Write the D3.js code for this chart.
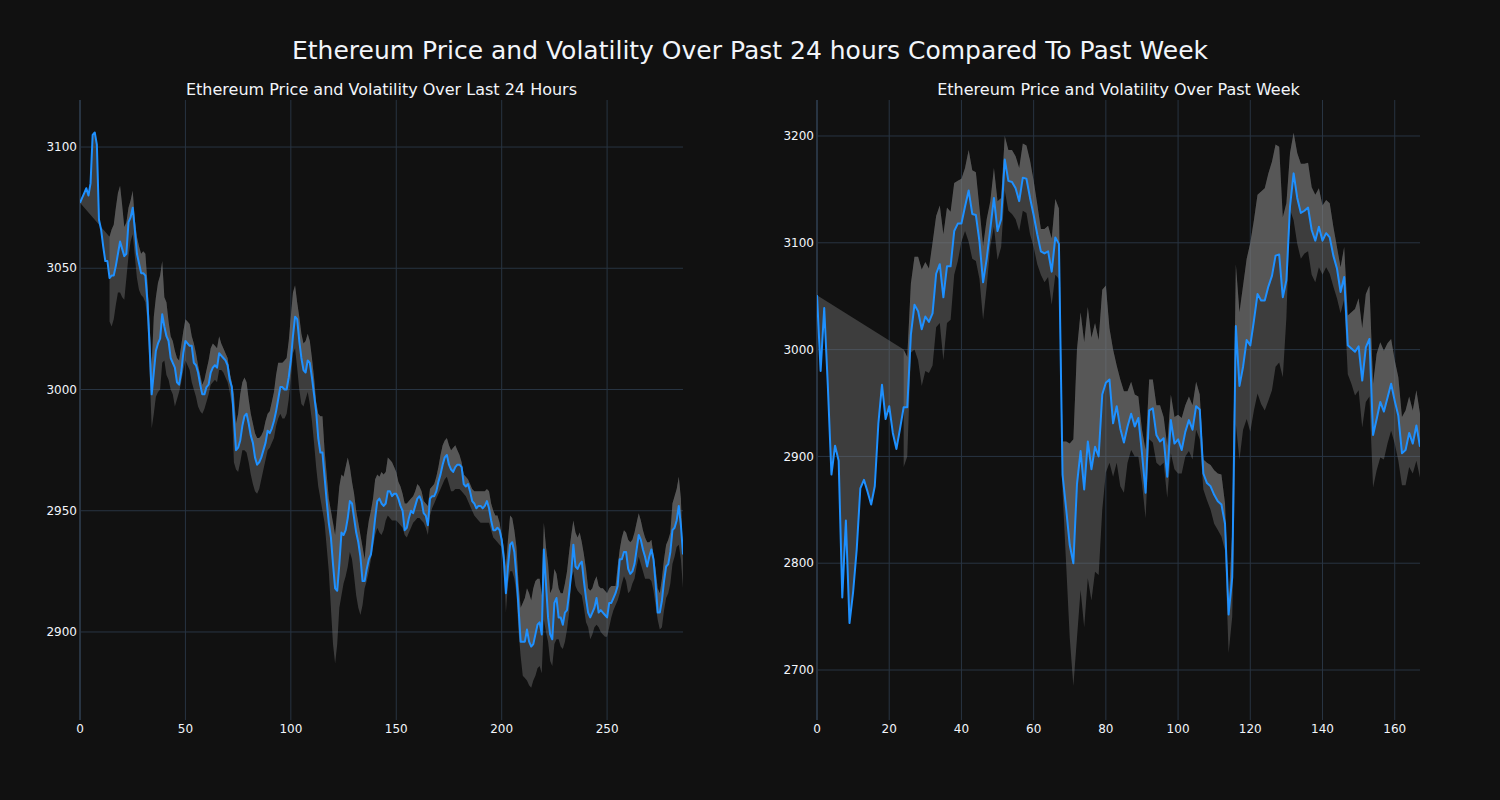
<!DOCTYPE html>
<html>
<head>
<meta charset="utf-8">
<script src="https://cdn.jsdelivr.net/npm/d3@7"></script>
<style>
  html, body { margin: 0; padding: 0; background: #111111; }
  svg { display: block; }
</style>
</head>
<body>
<svg id="chart" width="1500" height="800"></svg>
<script>
// ---------------- DATA ----------------
const mainTitle = "Ethereum Price and Volatility Over Past 24 hours Compared To Past Week";
const leftTitle = "Ethereum Price and Volatility Over Last 24 Hours";
const rightTitle = "Ethereum Price and Volatility Over Past Week";

// Last 24 hours (5-minute steps), index 0..286
const leftPrice = [
3077,3079,3081,3083,3080,3085,3105,3106,3101,3070,3066,3059,3053,3053,3046,3047,3047,3051,3056,3061,
3058,3055,3056,3069,3071,3075,3066,3056,3052,3048,3048,3047,3036,3018,2998,3007,3016,3019,3021,3031,
3026,3022,3020,3013,3011,3009,3003,3002,3007,3015,3020,3019,3018,3018,3011,3010,3007,3002,2998,2998,
3001,3002,3007,3009,3010,3009,3015,3014,3013,3012,3010,3004,3001,2988,2975,2976,2979,2985,2989,2990,
2986,2981,2978,2972,2969,2970,2972,2975,2978,2983,2982,2984,2987,2991,2996,3001,3001,3000,3000,3005,
3012,3022,3030,3029,3020,3013,3008,3007,3012,3011,3005,2998,2991,2980,2974,2974,2964,2954,2945,2939,
2928,2918,2917,2928,2941,2940,2942,2947,2954,2953,2947,2941,2937,2931,2921,2921,2926,2930,2932,2939,
2947,2954,2955,2953,2952,2953,2958,2958,2956,2957,2957,2955,2952,2950,2942,2943,2947,2950,2949,2952,
2955,2956,2954,2949,2948,2944,2955,2956,2956,2958,2962,2965,2969,2972,2973,2969,2967,2966,2968,2969,
2969,2968,2961,2960,2961,2958,2954,2953,2951,2952,2952,2951,2952,2954,2951,2946,2942,2942,2943,2942,
2938,2930,2916,2927,2936,2937,2933,2923,2910,2896,2896,2896,2901,2896,2894,2895,2899,2903,2904,2899,
2934,2920,2906,2899,2897,2912,2914,2906,2906,2903,2908,2909,2916,2924,2936,2927,2926,2928,2929,2921,
2914,2908,2906,2908,2910,2914,2908,2909,2908,2907,2906,2912,2912,2914,2916,2919,2930,2930,2933,2933,
2926,2924,2925,2928,2934,2940,2938,2934,2931,2927,2931,2934,2930,2920,2908,2908,2913,2921,2927,2928,
2933,2942,2943,2946,2952,2944,2932
];
const leftBandStart = 14;
const leftUpper = [
3063,3066,3068,3075,3081,3084,3076,3067,3069,3075,3078,3082,3070,3063,3059,3056,3057,3056,3044,3027,
3010,3030,3038,3044,3047,3053,3038,3036,3028,3022,3020,3016,3013,3012,3018,3024,3029,3028,3027,3022,
3019,3015,3010,3006,3002,3004,3008,3012,3017,3019,3018,3017,3022,3019,3017,3015,3013,3007,3003,2998,
2986,2990,2998,3003,3005,3003,2996,2990,2986,2982,2980,2980,2981,2983,2987,2990,2991,2995,2999,3006,
3011,3011,3011,3012,3013,3020,3030,3040,3043,3036,3030,3023,3019,3020,3023,3020,3013,3005,2995,2990,
2989,2989,2975,2965,2955,2950,2945,2940,2950,2960,2965,2964,2968,2972,2968,2962,2957,2950,2945,2940,
2935,2930,2940,2946,2950,2955,2963,2965,2964,2966,2965,2966,2972,2971,2970,2968,2966,2962,2960,2957,
2953,2953,2954,2955,2956,2958,2961,2960,2958,2954,2953,2952,2959,2960,2961,2964,2968,2973,2977,2979,
2980,2977,2975,2976,2977,2975,2973,2970,2965,2964,2963,2961,2959,2958,2958,2958,2958,2958,2958,2959,
2958,2953,2950,2948,2948,2945,2940,2935,2927,2938,2948,2947,2942,2935,2920,2910,2912,2914,2918,2916,
2913,2918,2921,2922,2922,2915,2945,2935,2928,2916,2918,2926,2924,2918,2916,2916,2920,2925,2933,2940,
2946,2941,2939,2941,2937,2932,2926,2918,2917,2918,2921,2923,2919,2918,2918,2917,2916,2918,2919,2919,
2919,2927,2934,2939,2942,2941,2938,2937,2938,2941,2945,2949,2946,2942,2939,2937,2937,2938,2932,2926,
2918,2916,2922,2930,2936,2938,2941,2953,2956,2959,2964,2955,2930
];
const leftLower = [
3028,3026,3029,3035,3040,3040,3038,3037,3046,3055,3061,3064,3055,3046,3041,3039,3038,3036,3028,3008,
2984,2990,2997,2999,3000,3011,3012,3006,3004,3000,2998,2993,2996,2999,3003,3008,3012,3010,3008,3003,
3000,2997,2993,2991,2990,2992,2995,2998,3002,3003,3004,3003,3008,3008,3007,3005,3003,2999,2994,2970,
2967,2966,2970,2975,2975,2974,2970,2965,2961,2958,2957,2959,2963,2967,2971,2975,2976,2978,2980,2985,
2988,2990,2988,2988,2990,2996,3005,3015,3017,3009,3000,2994,2993,2996,2999,2994,2987,2978,2968,2960,
2955,2950,2945,2935,2925,2910,2895,2887,2895,2910,2915,2920,2923,2927,2933,2930,2923,2915,2910,2907,
2911,2918,2921,2925,2930,2935,2940,2943,2941,2940,2942,2946,2948,2947,2946,2946,2946,2945,2944,2943,
2940,2939,2941,2943,2945,2946,2947,2947,2946,2945,2943,2940,2948,2951,2953,2955,2957,2959,2961,2963,
2964,2961,2958,2958,2959,2959,2959,2958,2957,2956,2954,2952,2950,2948,2947,2946,2945,2945,2945,2945,
2945,2942,2939,2938,2937,2936,2935,2930,2908,2920,2925,2925,2922,2916,2900,2890,2882,2881,2880,2878,
2877,2880,2882,2885,2886,2883,2905,2900,2896,2888,2886,2895,2897,2897,2894,2893,2896,2901,2908,2922,
2925,2919,2917,2916,2915,2910,2904,2902,2897,2899,2902,2903,2902,2900,2899,2898,2898,2902,2906,2909,
2911,2913,2916,2920,2923,2921,2916,2917,2920,2922,2927,2931,2928,2925,2922,2922,2922,2921,2917,2911,
2905,2901,2902,2909,2914,2916,2920,2928,2931,2935,2936,2930,2918
];

// Past week (hourly steps), index 0..167
const rightPrice = [
3051,2980,3039,2966,2883,2910,2896,2768,2840,2744,2773,2813,2870,2878,2867,2855,2872,2931,2967,2935,
2947,2922,2907,2926,2946,2946,3014,3042,3036,3019,3031,3026,3034,3071,3080,3049,3078,3078,3111,3118,
3118,3134,3149,3127,3126,3101,3063,3085,3113,3142,3111,3122,3178,3158,3157,3151,3139,3161,3160,3142,
3126,3108,3092,3090,3092,3073,3105,3099,2883,2851,2817,2800,2874,2905,2869,2914,2888,2909,2900,2958,
2969,2972,2931,2947,2926,2913,2928,2940,2928,2936,2903,2866,2943,2945,2920,2914,2917,2881,2934,2912,
2916,2906,2923,2934,2925,2947,2944,2884,2875,2872,2864,2858,2855,2837,2752,2787,3022,2966,2984,3009,
3004,3027,3052,3046,3046,3059,3069,3088,3089,3049,3065,3134,3165,3142,3128,3130,3133,3112,3102,3115,
3102,3109,3105,3088,3076,3054,3068,3004,3001,2998,3003,2971,3002,3010,2920,2935,2951,2942,2955,2968,
2952,2938,2903,2906,2922,2912,2929,2909
];
const rightBandStart = 24;
const rightUpper = [
3000,2993,3062,3087,3087,3075,3082,3076,3100,3125,3135,3108,3133,3129,3156,3158,3160,3170,3187,3168,
3166,3132,3097,3122,3139,3170,3139,3142,3200,3187,3187,3181,3170,3193,3191,3177,3158,3136,3113,3113,
3116,3104,3141,3132,2914,2914,2912,2916,3000,3035,3007,3040,3011,3025,3009,3056,3060,3020,3000,2985,
2972,2961,2961,2970,2958,2956,2925,2906,2972,2972,2948,2948,2937,2910,2958,2937,2939,2936,2948,2956,
2948,2970,2958,2897,2894,2892,2887,2884,2883,2856,2762,2830,3080,3035,3060,3085,3100,3121,3145,3148,
3151,3165,3176,3192,3190,3124,3137,3184,3203,3184,3174,3174,3175,3152,3145,3151,3135,3140,3137,3115,
3096,3077,3096,3032,3035,3038,3048,3020,3052,3060,2968,2996,3007,2999,3006,3010,2990,2974,2937,2943,
2956,2943,2962,2940
];
const rightLower = [
2890,2900,2997,3000,2990,2966,2980,2978,2985,3021,3025,2990,3025,3028,3070,3083,3101,3111,3101,3085,
3083,3066,3028,3059,3097,3115,3084,3096,3149,3130,3127,3122,3111,3130,3128,3108,3096,3080,3070,3063,
3068,3042,3070,3066,2868,2799,2730,2685,2730,2775,2740,2786,2765,2792,2789,2850,2885,2894,2881,2894,
2872,2866,2894,2906,2900,2900,2875,2842,2916,2913,2894,2891,2894,2861,2903,2888,2884,2884,2900,2905,
2897,2925,2916,2869,2859,2850,2837,2831,2825,2812,2716,2750,2930,2897,2925,2935,2923,2943,2959,2949,
2943,2952,2962,2984,2988,2974,3030,3131,3121,3099,3085,3090,3092,3070,3063,3077,3070,3077,3071,3059,
3048,3034,3047,2977,2968,2957,2962,2927,2951,2956,2871,2887,2899,2897,2912,2924,2912,2896,2873,2873,
2890,2884,2896,2880
];

const leftXTicks = [0, 50, 100, 150, 200, 250];
const leftYTicks = [2900, 2950, 3000, 3050, 3100];
const rightXTicks = [0, 20, 40, 60, 80, 100, 120, 140, 160];
const rightYTicks = [2700, 2800, 2900, 3000, 3100, 3200];

// ---------------- DRAWING ----------------
const W = 1500, H = 800;
const FONT = "'DejaVu Sans', Verdana, sans-serif";
const TEXT = "#f2f5fa";
const GRID = "#283442";
const LINE = "#1e90ff";
const BAND = "rgba(128,128,128,0.4)";

const svg = d3.select("#chart");
svg.append("rect").attr("width", W).attr("height", H).attr("fill", "#111111");

svg.append("text")
  .attr("x", 750).attr("y", 59)
  .attr("text-anchor", "middle")
  .attr("font-family", FONT).attr("font-size", 25)
  .attr("fill", TEXT)
  .text(mainTitle);

function panel(opts) {
  const { x0, x1, yDomain, price, upper, lower, bandStart, xTicks, yTicks, title, id } = opts;
  const top = 100, bottom = 720;
  const x = d3.scaleLinear().domain([0, price.length - 1]).range([x0, x1]);
  const y = d3.scaleLinear().domain(yDomain).range([bottom, top]);
  const g = svg.append("g");

  g.append("clipPath").attr("id", id).append("rect")
    .attr("x", x0).attr("y", top).attr("width", x1 - x0).attr("height", bottom - top);

  // grid
  g.append("g").selectAll("line").data(yTicks).join("line")
    .attr("x1", x0).attr("x2", x1)
    .attr("y1", d => y(d)).attr("y2", d => y(d))
    .attr("stroke", GRID).attr("stroke-width", 1);
  g.append("g").selectAll("line").data(xTicks).join("line")
    .attr("x1", d => x(d)).attr("x2", d => x(d))
    .attr("y1", top).attr("y2", bottom)
    .attr("stroke", GRID).attr("stroke-width", d => d === 0 ? 2 : 1);

  const pricePts = price.map((v, i) => [i, v]);
  const upperPts = upper.map((v, i) => [i + bandStart, v]);
  const lowerPts = lower.map((v, i) => [i + bandStart, v]);
  const gen = d3.line().x(d => x(d[0])).y(d => y(d[1]));

  const plot = g.append("g").attr("clip-path", `url(#${id})`);
  // upper band filled to the price trace (tonexty)
  plot.append("path")
    .attr("d", gen(upperPts.concat(pricePts.slice().reverse())) + "Z")
    .attr("fill", BAND).attr("stroke", "none");
  // lower band filled to the upper band (tonexty)
  plot.append("path")
    .attr("d", gen(lowerPts.concat(upperPts.slice().reverse())) + "Z")
    .attr("fill", BAND).attr("stroke", "none");
  // price line
  plot.append("path")
    .attr("d", gen(pricePts))
    .attr("fill", "none").attr("stroke", LINE).attr("stroke-width", 2)
    .attr("stroke-linejoin", "round");

  // tick labels
  g.append("g").selectAll("text").data(yTicks).join("text")
    .attr("x", x0 - 3).attr("y", d => y(d)).attr("dy", "0.35em")
    .attr("text-anchor", "end")
    .attr("font-family", FONT).attr("font-size", 12).attr("fill", TEXT)
    .text(d => d);
  g.append("g").selectAll("text").data(xTicks).join("text")
    .attr("x", d => x(d)).attr("y", 733)
    .attr("text-anchor", "middle")
    .attr("font-family", FONT).attr("font-size", 12).attr("fill", TEXT)
    .text(d => d);

  g.append("text")
    .attr("x", (x0 + x1) / 2).attr("y", 95)
    .attr("text-anchor", "middle")
    .attr("font-family", FONT).attr("font-size", 16).attr("fill", TEXT)
    .text(title);
}

panel({
  id: "clipL", x0: 80, x1: 683, yDomain: [2863.7, 3119.4],
  price: leftPrice, upper: leftUpper, lower: leftLower, bandStart: leftBandStart,
  xTicks: leftXTicks, yTicks: leftYTicks, title: leftTitle
});
panel({
  id: "clipR", x0: 817, x1: 1420, yDomain: [2653.2, 3233.7],
  price: rightPrice, upper: rightUpper, lower: rightLower, bandStart: rightBandStart,
  xTicks: rightXTicks, yTicks: rightYTicks, title: rightTitle
});
</script>
</body>
</html>
